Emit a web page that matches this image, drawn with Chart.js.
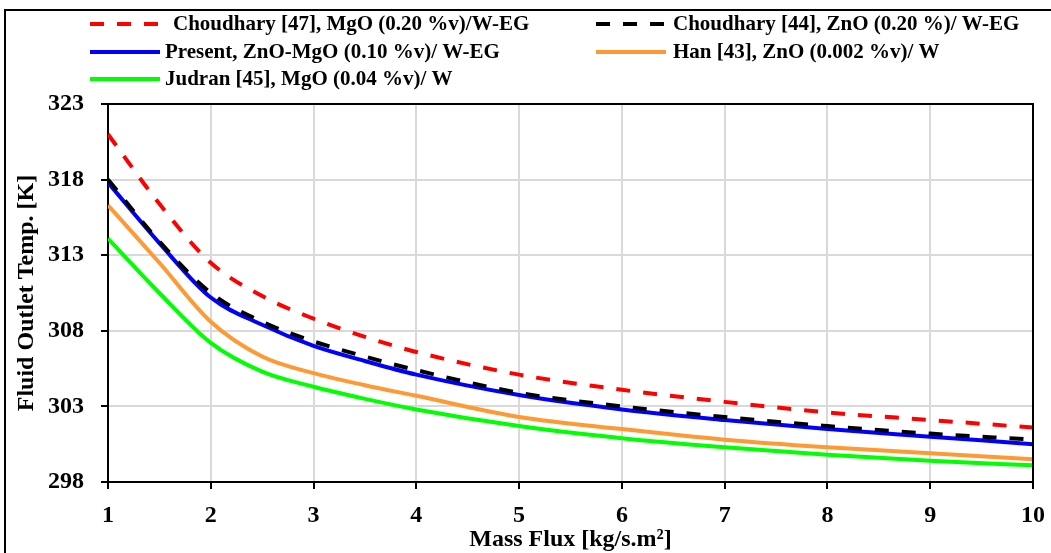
<!DOCTYPE html>
<html>
<head>
<meta charset="utf-8">
<script src="https://cdn.jsdelivr.net/npm/chart.js@4.4.1/dist/chart.umd.min.js"></script>
<style>
html,body{margin:0;padding:0;background:#fff;}
#wrap{position:relative;width:1051px;height:553px;}
</style>
</head>
<body>
<div id="wrap"><canvas id="c"></canvas></div>
<script>
// ---- data ----
const massFlux = [1, 1.5, 2, 2.5, 3, 3.5, 4, 5, 6, 7, 8, 9, 10];
const choudhary47 = [321.0, 316.4, 312.5, 310.3, 308.8, 307.6, 306.6, 305.1, 304.1, 303.3, 302.6, 302.1, 301.6];
const choudhary44 = [318.0, 313.9, 310.5, 308.6, 307.3, 306.3, 305.4, 303.9, 303.0, 302.3, 301.7, 301.2, 300.8];
const present     = [317.8, 313.8, 310.2, 308.4, 307.0, 306.0, 305.1, 303.75, 302.8, 302.1, 301.5, 301.0, 300.5];
const han43       = [316.3, 312.5, 308.6, 306.3, 305.2, 304.4, 303.7, 302.3, 301.5, 300.8, 300.3, 299.9, 299.5];
const judran45    = [314.1, 310.5, 307.2, 305.3, 304.3, 303.5, 302.8, 301.7, 300.9, 300.3, 299.8, 299.4, 299.1];
const seriesLabels = [
  "Choudhary [47], MgO (0.20 %v)/W-EG",
  "Choudhary [44], ZnO (0.20 %)/ W-EG",
  "Present, ZnO-MgO (0.10 %v)/ W-EG",
  "Han [43], ZnO (0.002 %v)/ W",
  "Judran [45], MgO (0.04 %v)/ W"
];
const xTicks = [1, 2, 3, 4, 5, 6, 7, 8, 9, 10];
const yTicks = [298, 303, 308, 313, 318, 323];
const xTitle = "Mass Flux [kg/s.m\u00B2]";
const yTitle = "Fluid Outlet Temp. [K]";

const FONT = '"Liberation Serif", "Times New Roman", serif';
const pts = arr => massFlux.map((x, i) => ({x: x, y: arr[i]}));

const styles = [
  {color: '#ff0000', dash: [14, 13]},
  {color: '#000000', dash: [14, 13]},
  {color: '#0000ff', dash: []},
  {color: '#ff9933', dash: []},
  {color: '#00ff00', dash: []}
];
const seriesData = [choudhary47, choudhary44, present, han43, judran45];

const datasets = seriesData.map((arr, i) => ({
  label: seriesLabels[i],
  data: pts(arr),
  borderColor: styles[i].color,
  backgroundColor: styles[i].color,
  borderDash: styles[i].dash,
  borderWidth: 4,
  pointRadius: 0,
  fill: false,
  cubicInterpolationMode: 'monotone'
}));
datasets[0].order = 1; datasets[1].order = 0;
datasets[2].order = 2; datasets[3].order = 3; datasets[4].order = 4;

const legendPos = [
  {lx: 90, tx: 173, y: 24},
  {lx: 596, tx: 673, y: 24},
  {lx: 90, tx: 165, y: 52},
  {lx: 596, tx: 673, y: 52},
  {lx: 90, tx: 165, y: 79}
];

const decor = {
  id: 'decor',
  beforeDraw(chart) {
    const ctx = chart.ctx;
    ctx.save();
    ctx.fillStyle = '#fff';
    ctx.fillRect(0, 0, chart.width, chart.height);
    ctx.restore();
  },
  afterDraw(chart) {
    const ctx = chart.ctx;
    const a = chart.chartArea;
    ctx.save();
    ctx.strokeStyle = '#000';
    ctx.lineWidth = 2;
    ctx.beginPath();
    ctx.moveTo(a.left, a.top); ctx.lineTo(a.right, a.top); ctx.lineTo(a.right, a.bottom);
    ctx.stroke();
    ctx.lineWidth = 2;
    ctx.strokeRect(5, 10, 1060, 560);
    ctx.font = 'bold 21px ' + FONT;
    ctx.textBaseline = 'middle';
    ctx.textAlign = 'left';
    chart.data.datasets.forEach((ds, i) => {
      const p = legendPos[i];
      ctx.strokeStyle = ds.borderColor;
      ctx.lineWidth = 4;
      ctx.setLineDash(ds.borderDash);
      ctx.beginPath();
      ctx.moveTo(p.lx, p.y); ctx.lineTo(p.lx + 70, p.y);
      ctx.stroke();
      ctx.setLineDash([]);
      ctx.fillStyle = '#000';
      ctx.fillText(ds.label, p.tx, p.y + 1);
    });
    ctx.restore();
  }
};

new Chart(document.getElementById('c'), {
  type: 'line',
  data: {datasets: datasets},
  plugins: [decor],
  options: {
    responsive: true,
    maintainAspectRatio: false,
    animation: false,
    layout: {padding: {left: 0, right: 18, top: 104, bottom: 0}},
    plugins: {legend: {display: false}, tooltip: {enabled: false}},
    scales: {
      x: {
        type: 'linear',
        min: xTicks[0], max: xTicks[xTicks.length - 1],
        afterBuildTicks: s => { s.ticks = xTicks.map(v => ({value: v})); },
        afterFit: s => { s.height = 553 - 482; s.paddingLeft = 0; s.paddingRight = 0; },
        grid: {color: '#d9d9d9', lineWidth: 2, tickColor: '#000', tickLength: 7, tickWidth: 2},
        border: {color: '#000', width: 2},
        ticks: {color: '#000', font: {family: FONT, size: 24, weight: 'bold'}, padding: 12, maxRotation: 0},
        title: {display: true, text: xTitle, color: '#000', font: {family: FONT, size: 24, weight: 'bold'}, padding: {top: 0, bottom: -1}}
      },
      y: {
        type: 'linear',
        min: yTicks[0], max: yTicks[yTicks.length - 1],
        afterBuildTicks: s => { s.ticks = yTicks.map(v => ({value: v})); },
        afterFit: s => { s.width = 108; s.paddingTop = 0; s.paddingBottom = 0; },
        grid: {color: '#d9d9d9', lineWidth: 2, tickColor: '#000', tickLength: 7, tickWidth: 2},
        border: {color: '#000', width: 2},
        ticks: {color: '#000', font: {family: FONT, size: 24, weight: 'bold'}, padding: 17},
        title: {display: true, text: yTitle, color: '#000', font: {family: FONT, size: 24, weight: 'bold'}, padding: {top: 12, bottom: 0}}
      }
    }
  }
});
</script>
</body>
</html>
